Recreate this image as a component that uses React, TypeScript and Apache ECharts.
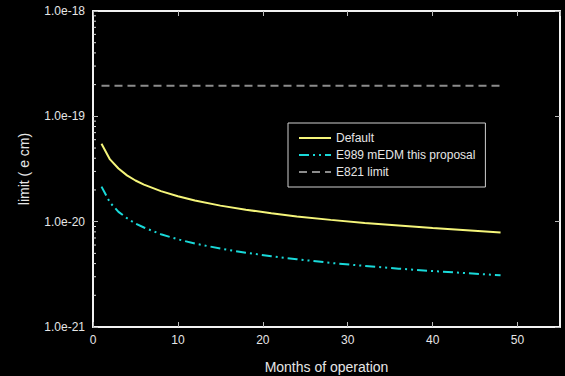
import React, { useEffect, useRef } from "react";
import * as echarts from "echarts";

const months = [1, 2, 3, 4, 5, 6, 8, 10, 12, 15, 18, 21, 24, 28, 32, 36, 40, 44, 48];
const defaultLimit = [5.5e-20, 3.9e-20, 3.2e-20, 2.75e-20, 2.46e-20, 2.25e-20, 1.95e-20, 1.74e-20, 1.59e-20, 1.42e-20, 1.3e-20, 1.2e-20, 1.12e-20, 1.04e-20, 9.7e-21, 9.2e-21, 8.7e-21, 8.3e-21, 7.9e-21];
const e989Limit = [2.15e-20, 1.52e-20, 1.24e-20, 1.08e-20, 9.6e-21, 8.8e-21, 7.6e-21, 6.8e-21, 6.2e-21, 5.55e-21, 5.07e-21, 4.7e-21, 4.4e-21, 4.06e-21, 3.8e-21, 3.58e-21, 3.4e-21, 3.24e-21, 3.1e-21];
const e821Months = [1, 48];
const e821Limit = [1.95e-19, 1.95e-19];
const yMin = 1e-21;
const yMax = 1e-18;
const minorTickValues = [
  2e-21, 3e-21, 4e-21, 5e-21, 6e-21, 7e-21, 8e-21, 9e-21,
  2e-20, 3e-20, 4e-20, 5e-20, 6e-20, 7e-20, 8e-20, 9e-20,
  2e-19, 3e-19, 4e-19, 5e-19, 6e-19, 7e-19, 8e-19, 9e-19,
];

// ECharts rounds to at most 20 decimals, so plot in units of 1e-21 e·cm
const UNIT = 1e-21;
const toU = (v: number) => v / UNIT;

const FONT = "Liberation Sans, Arial, sans-serif";
const TXT = "#e6e6e6";
const AX = "#f2f2f2";

export default function App() {
  const ref = useRef<HTMLDivElement>(null);
  useEffect(() => {
    document.body.style.margin = "0";
    document.body.style.background = "#000";
    const chart = echarts.init(ref.current!, null, { renderer: "svg" });
    const pair = (xs: number[], ys: number[]) => xs.map((x, i) => [x, toU(ys[i])]);
    const yBase = {
      type: "log",
      logBase: 10,
      min: toU(yMin),
      max: toU(yMax),
      splitLine: { show: false },
    };
    const tick = { show: true, inside: true, length: 5, lineStyle: { color: "#bbb" } };
    const line = { show: true, onZero: false, lineStyle: { color: AX, width: 2 } };
    chart.setOption({
      animation: false,
      backgroundColor: "#000",
      textStyle: { fontFamily: FONT },
      grid: { left: 93, top: 11, right: 5, bottom: 49, containLabel: false, outerBoundsMode: "none" },
      legend: {
        left: 288,
        top: 123,
        orient: "vertical",
        padding: [9, 10, 9, 10],
        itemGap: 5,
        itemWidth: 32,
        itemHeight: 12,
        borderColor: "#cfcfcf",
        borderWidth: 1,
        backgroundColor: "#000",
        itemStyle: { opacity: 0 },
        textStyle: { color: TXT, fontSize: 12, fontFamily: FONT, width: 150, overflow: "truncate" },
        data: ["Default", "E989 mEDM this proposal", "E821 limit"],
      },
      xAxis: [
        {
          type: "value",
          min: 0,
          max: 55,
          interval: 10,
          name: "Months of operation",
          nameLocation: "middle",
          nameGap: 33,
          nameTextStyle: { color: TXT, fontSize: 14, fontFamily: FONT },
          axisLine: line,
          axisTick: tick,
          axisLabel: { color: TXT, fontSize: 12, margin: 7, fontFamily: FONT, showMaxLabel: false },
          splitLine: { show: false },
        },
        {
          type: "value",
          position: "top",
          min: 0,
          max: 55,
          interval: 10,
          axisLine: line,
          axisTick: tick,
          axisLabel: { show: false },
          splitLine: { show: false },
        },
      ],
      yAxis: [
        {
          ...yBase,
          name: "limit ( e cm)",
          nameLocation: "middle",
          nameGap: 62,
          nameTextStyle: { color: TXT, fontSize: 14, fontFamily: FONT },
          axisLine: line,
          axisTick: tick,
          axisLabel: {
            color: TXT,
            fontSize: 12,
            margin: 8,
            fontFamily: FONT,
            formatter: (v: number) => (v * UNIT).toExponential(1),
          },
        },
        {
          ...yBase,
          position: "right",
          axisLine: line,
          axisTick: tick,
          axisLabel: { show: false },
        },
      ],
      series: [
        {
          name: "Default",
          type: "line",
          symbol: "none",
          data: pair(months, defaultLimit),
          lineStyle: { color: "#f5f57a", width: 2 },
          itemStyle: { color: "#f5f57a" },
        },
        {
          name: "E989 mEDM this proposal",
          type: "line",
          symbol: "none",
          data: pair(months, e989Limit),
          lineStyle: { color: "#19d9d9", width: 2, type: [10, 4, 2, 4, 2, 4] },
          itemStyle: { color: "#19d9d9" },
        },
        {
          name: "E821 limit",
          type: "line",
          symbol: "none",
          data: pair(e821Months, e821Limit),
          lineStyle: { color: "#8c8c8c", width: 2, type: [8, 5] },
          itemStyle: { color: "#8c8c8c" },
        },
        {
          type: "custom",
          silent: true,
          data: minorTickValues.map((v) => [0, toU(v)]),
          encode: { x: 0, y: 1 },
          renderItem: (_p: any, api: any) => {
            const pt = api.coord([0, api.value(1)]);
            return {
              type: "line",
              shape: { x1: pt[0], y1: pt[1], x2: pt[0] + 3, y2: pt[1] },
              style: { stroke: "#ddd", lineWidth: 1 },
            };
          },
        },
      ],
    });
    return () => chart.dispose();
  }, []);
  return <div ref={ref} style={{ width: 565, height: 376, background: "#000" }} />;
}
